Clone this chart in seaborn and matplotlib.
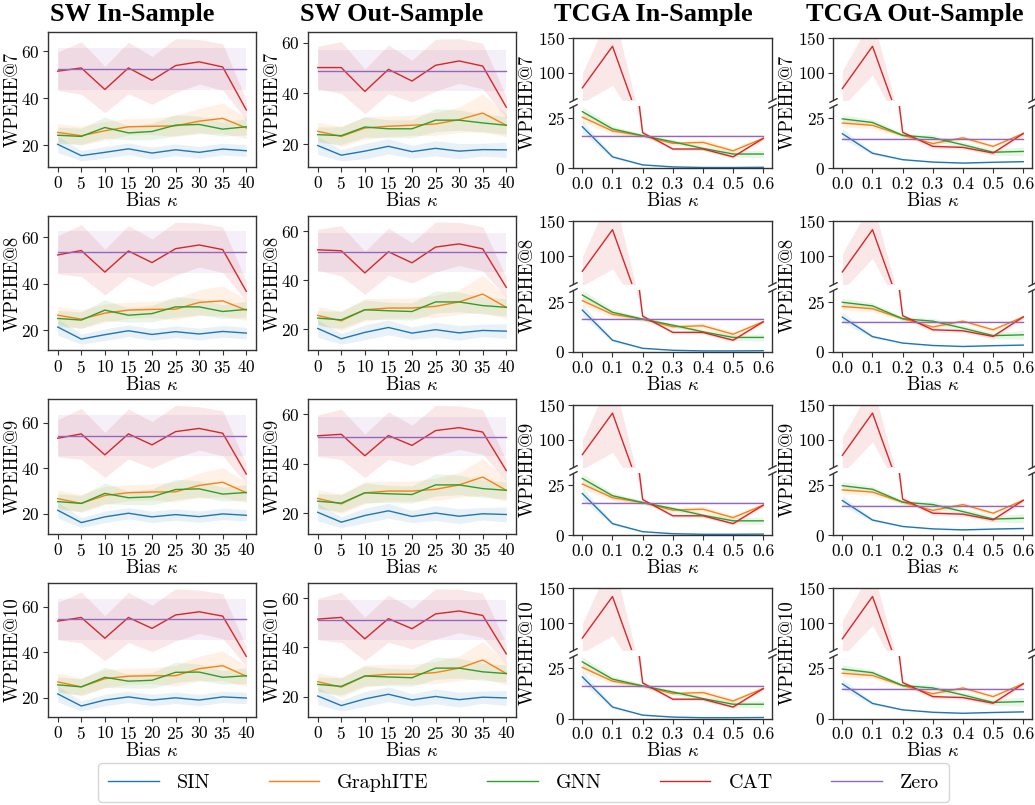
import numpy as np
import pandas as pd
import seaborn as sns
import matplotlib.pyplot as plt

# x values
kappa_sw = [0, 5, 10, 15, 20, 25, 30, 35, 40]
kappa_tcga = [0.0, 0.1, 0.2, 0.3, 0.4, 0.5, 0.6]
ks = [7, 8, 9, 10]
methods = ["SIN", "GraphITE", "GNN", "CAT", "Zero"]

# ---- SW In-Sample (rows: WPEHE@7..10) ----
sw_in_sin = [[20.3, 15.5, 16.9, 18.4, 16.6, 18.0, 16.9, 18.3, 17.6],
             [21.3, 16.1, 18.0, 19.7, 18.1, 19.3, 18.3, 19.4, 18.7],
             [21.6, 16.2, 18.7, 20.3, 18.7, 19.7, 18.8, 20.0, 19.4],
             [21.7, 16.4, 19.0, 20.4, 19.0, 20.0, 19.0, 20.4, 19.9]]
sw_in_graphite = [[25.4, 24.0, 26.1, 27.8, 28.0, 28.2, 30.2, 31.4, 27.3],
                  [26.4, 24.7, 27.3, 28.6, 28.9, 29.0, 31.9, 32.6, 28.6],
                  [26.7, 24.6, 28.1, 29.3, 29.6, 29.7, 32.5, 33.9, 29.3],
                  [27.0, 24.8, 28.4, 29.5, 29.7, 29.7, 32.8, 34.1, 29.5]]
sw_in_gnn = [[24.2, 23.7, 27.5, 25.2, 25.8, 28.5, 28.8, 26.8, 27.8],
             [25.0, 24.3, 28.6, 26.4, 27.1, 30.0, 30.0, 28.0, 28.9],
             [25.4, 24.6, 29.0, 27.1, 27.5, 30.7, 31.0, 28.7, 29.4],
             [25.7, 24.8, 29.0, 27.3, 27.7, 31.2, 31.3, 29.0, 29.7]]
sw_in_cat = [[51.5, 52.9, 43.7, 52.9, 47.6, 53.9, 55.5, 53.3, 35.0],
             [52.4, 54.3, 45.0, 54.1, 49.1, 55.1, 56.7, 54.7, 36.7],
             [53.2, 55.1, 45.9, 55.1, 50.3, 56.1, 57.5, 55.4, 37.5],
             [53.7, 55.3, 46.2, 55.3, 50.5, 56.4, 57.8, 55.9, 38.2]]
sw_in_zero = [52.5, 53.7, 54.2, 54.5]
# band half widths
sw_in_sin_sd = [3.5, 2.2, 2.5, 2.5, 2.5, 2.5, 2.5, 2.5, 2.5]
sw_in_graphite_sd = [3.8, 4.0, 4.0, 3.5, 3.5, 4.5, 5.5, 6.5, 4.5]
sw_in_gnn_sd = [3.5, 3.5, 4.5, 3.0, 3.5, 4.5, 3.5, 3.0, 3.5]
sw_in_cat_sd = [8.2, 11.2, 9.9, 11.0, 10.2, 11.5, 9.5, 9.9, 4.3]
sw_in_zero_sd = 9.0

# ---- SW Out-Sample ----
sw_out_sin = [[19.5, 15.7, 17.3, 19.2, 17.1, 18.4, 17.3, 17.9, 17.8],
              [20.4, 16.2, 18.8, 20.8, 18.5, 19.9, 18.6, 19.6, 19.3],
              [20.3, 16.3, 19.0, 20.9, 18.6, 20.0, 18.7, 19.7, 19.4],
              [20.3, 16.4, 19.1, 21.0, 18.7, 20.1, 18.8, 19.8, 19.5]]
sw_out_graphite = [[25.1, 23.1, 26.4, 27.1, 27.5, 28.0, 29.7, 32.3, 27.5],
                   [25.7, 23.5, 28.0, 28.7, 28.7, 29.4, 31.2, 34.4, 29.0],
                   [25.9, 23.7, 28.2, 28.9, 28.9, 29.6, 31.4, 34.6, 29.2],
                   [26.1, 23.9, 28.4, 29.1, 29.1, 29.8, 31.6, 34.9, 29.4]]
sw_out_gnn = [[23.8, 23.4, 26.8, 26.1, 26.1, 29.5, 29.5, 28.4, 27.5],
              [24.6, 23.9, 28.0, 27.6, 27.3, 31.2, 31.2, 29.7, 29.0],
              [24.8, 24.0, 28.2, 27.8, 27.5, 31.4, 31.4, 29.9, 29.2],
              [25.0, 24.2, 28.4, 28.0, 27.7, 31.6, 31.6, 30.1, 29.4]]
sw_out_cat = [[50.2, 50.2, 40.8, 49.5, 44.9, 51.1, 52.8, 50.8, 34.6],
              [52.4, 52.0, 43.0, 51.6, 47.1, 53.5, 54.8, 52.8, 37.1],
              [51.3, 51.9, 43.2, 51.4, 47.4, 53.4, 54.6, 52.8, 37.2],
              [51.5, 52.2, 43.5, 51.7, 47.6, 53.6, 54.8, 53.0, 37.4]]
sw_out_zero = [49.0, 51.3, 51.0, 51.2]
sw_out_sin_sd = [3.5, 2.2, 3.0, 3.0, 2.5, 3.0, 3.0, 2.5, 3.0]
sw_out_graphite_sd = [3.5, 4.0, 4.5, 4.0, 4.0, 4.5, 5.0, 7.5, 4.5]
sw_out_gnn_sd = [3.0, 3.5, 4.0, 3.5, 3.5, 4.5, 4.0, 3.5, 3.5]
sw_out_cat_sd = [8.4, 10.2, 8.8, 9.6, 8.2, 10.2, 8.8, 9.0, 4.2]
sw_out_zero_sd = 8.0

# ---- TCGA (same in every row) ----
tcga_in_sin = [20.8, 5.8, 1.8, 0.8, 0.5, 0.5, 0.6]
tcga_in_graphite = [25.5, 18.7, 16.3, 12.5, 13.0, 8.8, 15.0]
tcga_in_gnn = [28.3, 19.7, 16.3, 13.3, 10.0, 7.2, 7.2]
tcga_in_cat = [78.6, 138.0, 17.8, 9.7, 9.7, 5.8, 15.0]
tcga_in_zero = 16.3
tcga_in_sin_sd = [3.0, 0.8, 0.3, 0.2, 0.1, 0.1, 0.1]
tcga_in_graphite_sd = [2.5, 1.5, 1.0, 1.0, 1.5, 1.2, 1.0]
tcga_in_gnn_sd = [2.5, 1.5, 1.0, 1.0, 1.2, 1.5, 1.8]
tcga_in_cat_sd = [21.0, 56.0, 1.0, 0.8, 0.8, 0.8, 0.8]
tcga_in_zero_sd = 0.5

tcga_out_sin = [17.3, 7.6, 4.4, 3.2, 2.7, 3.1, 3.4]
tcga_out_graphite = [22.6, 21.5, 16.5, 12.4, 15.3, 11.0, 17.4]
tcga_out_gnn = [24.7, 22.9, 16.5, 15.3, 11.8, 8.1, 8.5]
tcga_out_cat = [77.6, 138.0, 18.0, 11.0, 10.5, 7.7, 17.4]
tcga_out_zero = 14.8
tcga_out_sin_sd = [2.5, 0.8, 0.3, 0.3, 0.3, 0.3, 0.3]
tcga_out_graphite_sd = [2.0, 1.5, 1.0, 1.0, 1.0, 1.0, 1.0]
tcga_out_gnn_sd = [2.0, 1.5, 1.0, 1.5, 1.5, 1.5, 2.2]
tcga_out_cat_sd = [26.0, 41.0, 1.0, 1.0, 1.0, 1.0, 1.0]
tcga_out_zero_sd = 0.5

plt.rcParams['font.family'] = 'serif'
plt.rcParams['font.serif'] = ['cmr10']
plt.rcParams['mathtext.fontset'] = 'cm'
plt.rcParams['axes.formatter.use_mathtext'] = True
plt.rcParams['axes.edgecolor'] = '0.2'
plt.rcParams['axes.linewidth'] = 1.0

palette = dict(zip(methods, sns.color_palette("tab10")[:5]))

W, H = 1035, 805
fig = plt.figure(figsize=(W / 100, H / 100), dpi=100)


def add_ax(left, top, width, height):
    return fig.add_axes([left / W, 1 - (top + height) / H, width / W, height / H])


def draw(ax, x, series, sds):
    rows = []
    for m in methods:
        for xi, yi in zip(x, series[m]):
            rows.append({"kappa": xi, "value": yi, "method": m})
    df = pd.DataFrame(rows)
    sns.lineplot(data=df, x="kappa", y="value", hue="method", palette=palette,
                 hue_order=methods, lw=1.0, legend=False, ax=ax)
    for m in methods:
        y = np.array(series[m])
        sd = np.array(sds[m])
        ax.fill_between(x, y - sd, y + sd, color=palette[m], alpha=0.1, lw=0)
    ax.set_xlabel("")
    ax.set_ylabel("")


row_tops = [32.5, 215.9, 399.3, 582.7]
sw_cols = [(48.3, sw_in_sin, sw_in_graphite, sw_in_gnn, sw_in_cat, sw_in_zero,
            [sw_in_sin_sd, sw_in_graphite_sd, sw_in_gnn_sd, sw_in_cat_sd, sw_in_zero_sd]),
           (308.3, sw_out_sin, sw_out_graphite, sw_out_gnn, sw_out_cat, sw_out_zero,
            [sw_out_sin_sd, sw_out_graphite_sd, sw_out_gnn_sd, sw_out_cat_sd, sw_out_zero_sd])]
tcga_cols = [(573.3, [tcga_in_sin, tcga_in_graphite, tcga_in_gnn, tcga_in_cat, tcga_in_zero],
              [tcga_in_sin_sd, tcga_in_graphite_sd, tcga_in_gnn_sd, tcga_in_cat_sd, tcga_in_zero_sd]),
             (833.3, [tcga_out_sin, tcga_out_graphite, tcga_out_gnn, tcga_out_cat, tcga_out_zero],
              [tcga_out_sin_sd, tcga_out_graphite_sd, tcga_out_gnn_sd, tcga_out_cat_sd, tcga_out_zero_sd])]

tick_fs = 12.5
label_fs = 13.5

for r, top in enumerate(row_tops):
    # SW panels
    for left, s_sin, s_gr, s_gnn, s_cat, s_zero, sd_list in sw_cols:
        ax = add_ax(left, top, 207.4, 134.4)
        series = {"SIN": s_sin[r], "GraphITE": s_gr[r], "GNN": s_gnn[r],
                  "CAT": s_cat[r], "Zero": [s_zero[r]] * len(kappa_sw)}
        sds = {"SIN": sd_list[0], "GraphITE": sd_list[1], "GNN": sd_list[2],
               "CAT": sd_list[3], "Zero": [sd_list[4]] * len(kappa_sw)}
        draw(ax, kappa_sw, series, sds)
        ax.set_xticks(kappa_sw)
        ax.set_yticks([20, 40, 60])
        ax.tick_params(labelsize=tick_fs, length=3.5, color='0.2', pad=2.5)
        ax.set_xlabel(r"Bias $\kappa$", fontsize=label_fs, labelpad=0)
        ax.set_ylabel(f"WPEHE@{ks[r]}", fontsize=label_fs)
        ax.yaxis.set_label_coords(-0.128, 0.5)

    # TCGA panels (broken y axis)
    for left, vals, sd_vals in tcga_cols:
        n = len(kappa_tcga)
        series = {m: (v if isinstance(v, list) else [v] * n) for m, v in zip(methods, vals)}
        sds = {m: (v if isinstance(v, list) else [v] * n) for m, v in zip(methods, sd_vals)}
        ax_t = add_ax(left, top + 5.4, 199, 62.3)
        ax_b = add_ax(left, top + 73.7, 199, 62.3)
        draw(ax_t, kappa_tcga, series, sds)
        draw(ax_b, kappa_tcga, series, sds)
        ax_t.set_ylim(61, 150)
        ax_b.set_ylim(0, 31)
        for a in (ax_t, ax_b):
            a.set_xlim(-0.03, 0.63)
        ax_t.set_yticks([100, 150])
        ax_b.set_yticks([0, 25])
        ax_b.set_xticks(kappa_tcga)
        ax_b.set_xticklabels([f"{v:.1f}" for v in kappa_tcga])
        ax_t.spines['bottom'].set_visible(False)
        ax_b.spines['top'].set_visible(False)
        ax_t.tick_params(axis='x', bottom=False, labelbottom=False)
        for a in (ax_t, ax_b):
            a.tick_params(labelsize=tick_fs, length=3.5, color='0.2', pad=2.5)
        ax_b.set_xlabel(r"Bias $\kappa$", fontsize=label_fs, labelpad=0)
        # break marks
        d = 0.5
        kw = dict(marker=[(-1, -d), (1, d)], markersize=6, linestyle="none",
                  color='0.2', mec='0.2', mew=1, clip_on=False)
        ax_t.plot([0, 1], [0, 0], transform=ax_t.transAxes, **kw)
        ax_b.plot([0, 1], [1, 1], transform=ax_b.transAxes, **kw)
        fig.text((left - 46) / W, 1 - (top + 70) / H, f"WPEHE@{ks[r]}",
                 rotation=90, ha='center', va='center', fontsize=label_fs)

# column titles
titles = ["SW In-Sample", "SW Out-Sample", "TCGA In-Sample", "TCGA Out-Sample"]
title_x = [132, 392, 653, 915]
for t, xc in zip(titles, title_x):
    fig.text(xc / W, 1 - 14 / H, t, ha='center', va='center', fontsize=19,
             fontweight='bold', family='Liberation Serif')

# legend
handles = [plt.Line2D([], [], color=palette[m], lw=1.0) for m in methods]
fig.legend(handles, methods, loc='center', bbox_to_anchor=(523.5 / W, 1 - 782.5 / H),
           ncol=5, fontsize=14.5, handlelength=2.5, columnspacing=2.9, frameon=True,
           borderpad=0.5, handletextpad=0.9)

fig.savefig("out.png", dpi=100)
